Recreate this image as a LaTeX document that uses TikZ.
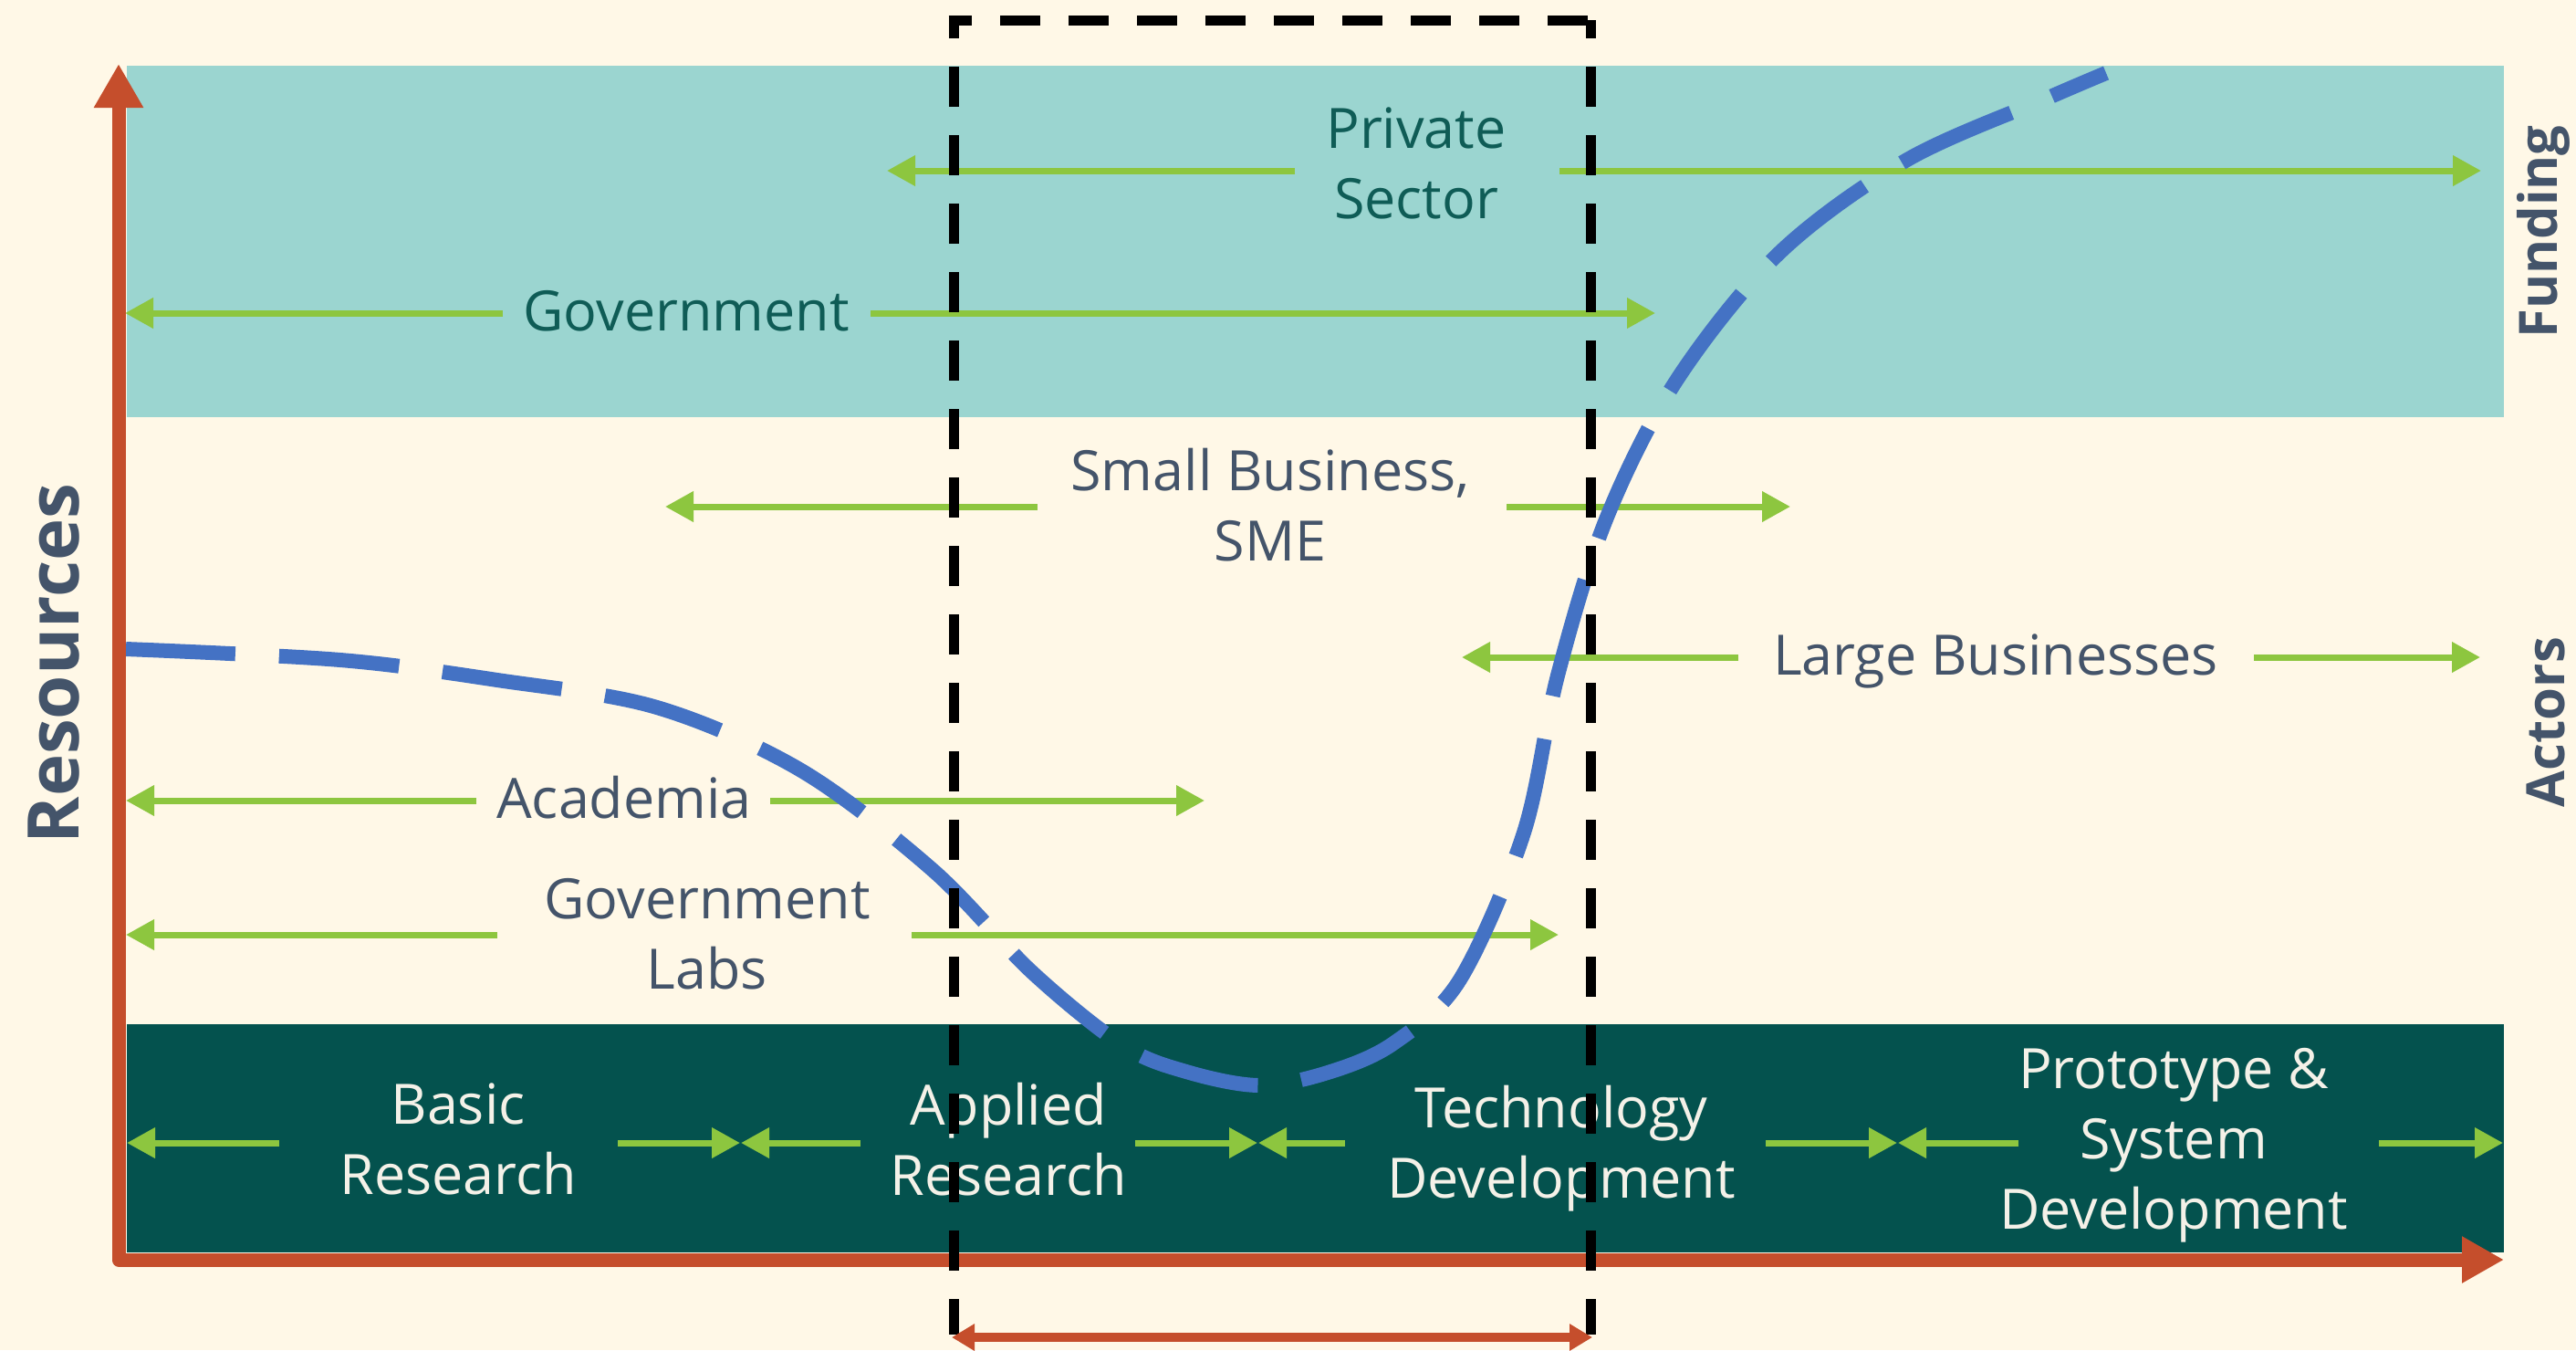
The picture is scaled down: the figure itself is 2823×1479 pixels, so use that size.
\documentclass[tikz,border=0pt]{standalone}
\usepackage{fontspec}
\setmainfont{Open Sans}
\usetikzlibrary{arrows.meta}
\definecolor{cream}{HTML}{FFF8E7}
\definecolor{tealband}{HTML}{9BD5D0}
\definecolor{darkband}{HTML}{04524E}
\definecolor{gr}{HTML}{8DC63F}
\definecolor{tealtext}{HTML}{0F5C56}
\definecolor{slate}{HTML}{44546A}
\definecolor{rust}{HTML}{C54E2C}
\definecolor{bluecurve}{HTML}{4472C4}
\definecolor{lighttext}{HTML}{F4F1E8}
\begin{document}
\begin{tikzpicture}[x=0.25pt,y=-0.25pt,
  garrow/.style={draw=gr, line width=1.75pt, -{Triangle[length=7.75pt,width=8pt]}},
  lbl/.style={inner sep=0pt, font=\fontsize{15.25pt}{19.25pt}\selectfont, align=center},
  tlbl/.style={lbl, text=tealtext},
  clbl/.style={lbl, text=slate},
  dlbl/.style={lbl, text=lighttext},
  axlbl/.style={inner sep=0pt, text=slate, rotate=90},
  boxline/.style={draw=black, line width=2.75pt, dash pattern=on 11pt off 7.75pt}
]
% canvas
\fill[cream] (0,0) rectangle (2823,1479);
\useasboundingbox (0,0) rectangle (2823,1479);
% bands
\fill[tealband] (139,72) rectangle (2744,457);
\fill[darkband] (139,1122) rectangle (2744,1372);

% ---- Funding arrows
\node[tlbl] (ps) at (1552,179) {Private\\Sector};
\coordinate (psL) at (1419,187); \coordinate (psR) at (1709,187);
\coordinate (psLt) at (972,187); \coordinate (psRt) at (2719,187);
\draw[garrow] (psL) -- (psLt);
\draw[garrow] (psR) -- (psRt);

\node[tlbl, anchor=base] (gv) at (752,362) {Government};
\coordinate (gvL) at (551,343); \coordinate (gvR) at (954,343);
\coordinate (gvLt) at (137,343); \coordinate (gvRt) at (1814,343);
\draw[garrow] (gvL) -- (gvLt);
\draw[garrow] (gvR) -- (gvRt);

% ---- Actors arrows
\node[clbl] (sb) at (1392,553) {Small Business,\\SME};
\coordinate (sbL) at (1137,555); \coordinate (sbR) at (1651,555);
\coordinate (sbLt) at (729,555); \coordinate (sbRt) at (1962,555);
\draw[garrow] (sbL) -- (sbLt);
\draw[garrow] (sbR) -- (sbRt);

\node[clbl, anchor=base] (lb) at (2187,739) {Large Businesses};
\coordinate (lbL) at (1905,720); \coordinate (lbR) at (2470,720);
\coordinate (lbLt) at (1602,720); \coordinate (lbRt) at (2718,720);
\draw[garrow] (lbL) -- (lbLt);
\draw[garrow] (lbR) -- (lbRt);

\node[clbl, anchor=base] (ac) at (684,896) {Academia};
\coordinate (acL) at (522,877); \coordinate (acR) at (844,877);
\coordinate (acLt) at (138,877); \coordinate (acRt) at (1320,877);
\draw[garrow] (acL) -- (acLt);
\draw[garrow] (acR) -- (acRt);

\node[clbl] (gl) at (775,1023) {Government\\Labs};
\coordinate (glL) at (545,1024); \coordinate (glR) at (999,1024);
\coordinate (glLt) at (138,1024); \coordinate (glRt) at (1708,1024);
\draw[garrow] (glL) -- (glLt);
\draw[garrow] (glR) -- (glRt);

% ---- Stage arrows
\node[dlbl] (br) at (502,1248) {Basic\\Research};
\coordinate (brL) at (306,1252); \coordinate (brR) at (677,1252);
\coordinate (brLt) at (139,1252); \coordinate (brRt) at (811,1252);
\draw[garrow] (brL) -- (brLt);
\draw[garrow] (brR) -- (brRt);

\node[dlbl] (ar) at (1105,1248) {Applied\\Research};
\coordinate (arL) at (943,1252); \coordinate (arR) at (1244,1252);
\coordinate (arLt) at (812,1252); \coordinate (arRt) at (1378,1252);
\draw[garrow] (arL) -- (arLt);
\draw[garrow] (arR) -- (arRt);

\node[dlbl] (td) at (1711,1258) {Technology\\Development};
\coordinate (tdL) at (1474,1252); \coordinate (tdR) at (1935,1252);
\coordinate (tdLt) at (1379,1252); \coordinate (tdRt) at (2079,1252);
\draw[garrow] (tdL) -- (tdLt);
\draw[garrow] (tdR) -- (tdRt);

\node[dlbl] (pd) at (2382,1255) {Prototype \&\\System\\Development};
\coordinate (pdL) at (2212,1252); \coordinate (pdR) at (2607,1252);
\coordinate (pdLt) at (2080,1252); \coordinate (pdRt) at (2743,1252);
\draw[garrow] (pdL) -- (pdLt);
\draw[garrow] (pdR) -- (pdRt);

% ---- Resource curve
\draw[bluecurve, line width=4pt, dash pattern=on 33pt off 12pt, dash phase=3pt]
  plot[smooth, tension=0.55] coordinates {(138,711) (373,723) (545,745) (720,775) (878,844)
  (1022,953) (1131,1065) (1230,1145) (1300,1174) (1380,1189) (1455,1175) (1527,1143) (1600,1073) (1670,912)
  (1707,740) (1760,569) (1837,417) (1950,277) (2090,175) (2247,106) (2308,80)};

% ---- Axes
\coordinate (org) at (130,1380);
\coordinate (ytip) at (130,70);
\coordinate (xtip) at (2744,1380);
\draw[rust, line width=3.75pt, line join=round,
  {Triangle[length=12pt,width=12.75pt]}-{Triangle[length=11.5pt,width=12pt]}]
  (ytip) -- (org) -- (xtip);

% ---- Axis / side labels
\node[axlbl, font=\bfseries\fontsize{19.5pt}{22pt}\selectfont] (res) at (59,727) {Resources};
\node[axlbl, font=\bfseries\fontsize{14.5pt}{17pt}\selectfont] (fund) at (2787,254) {Funding};
\node[axlbl, font=\bfseries\fontsize{14.5pt}{17pt}\selectfont] (act) at (2790,791) {Actors};

% ---- Dashed focus box
\coordinate (bxTL) at (1045,22); \coordinate (bxBL) at (1045,1462);
\coordinate (bxTR) at (1743,22); \coordinate (bxBR) at (1743,1462);
\coordinate (bxTLo) at (1039.5,22); \coordinate (bxTRo) at (1748.5,22);
\draw[boxline, dash phase=6pt] (bxTL) -- (bxBL);
\draw[boxline, dash phase=6pt] (bxTR) -- (bxBR);
\draw[boxline, dash phase=4.6pt] (bxTLo) -- (bxTRo);

% ---- Bottom bracket
\coordinate (bkL) at (1043,1465); \coordinate (bkR) at (1745,1465);
\draw[rust, line width=2.5pt, {Triangle[length=6.25pt,width=7pt]}-{Triangle[length=6.25pt,width=7pt]}] (bkL) -- (bkR);
\end{tikzpicture}
\end{document}
